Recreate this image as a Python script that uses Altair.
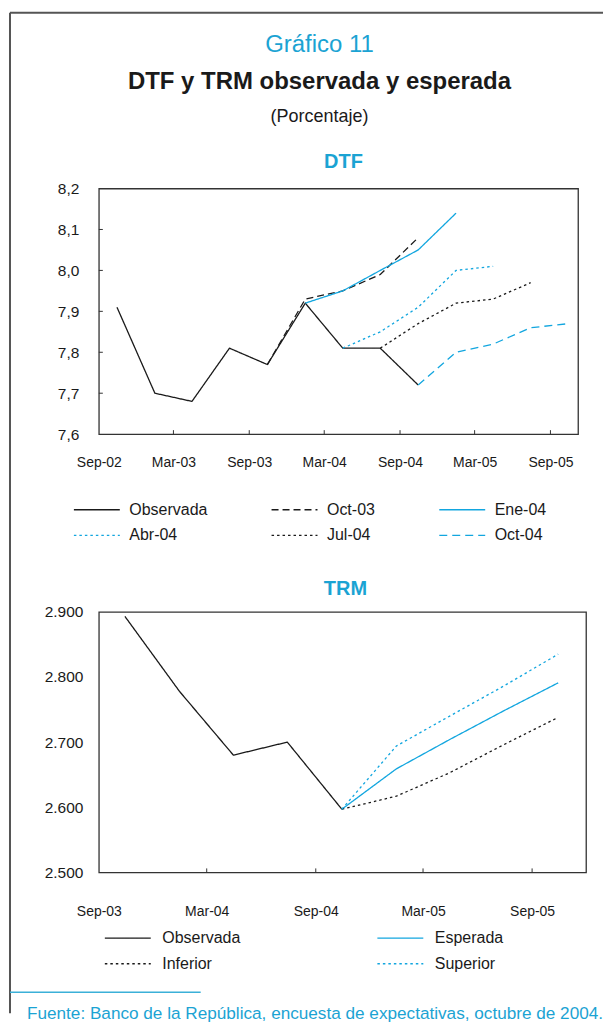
import altair as alt
import pandas as pd

CYAN = "#12A6DF"
TEXT_CYAN = "#1BA3D3"
BLACK = "#1a1a1a"
FRAME = "#555555"
SANS = "'Liberation Sans', Arial, Helvetica, sans-serif"
LEG_SYMBOL = "M-2,0H2"

# ---------------- DTF data ----------------
dtf_series = ["Observada", "Oct-03", "Ene-04", "Abr-04", "Jul-04", "Oct-04"]
dtf_obs_dates = ["2002-10-15", "2003-01-15", "2003-04-15", "2003-07-15", "2003-10-15",
                 "2004-01-15", "2004-04-15", "2004-07-15", "2004-10-15"]
dtf_obs = [7.91, 7.70, 7.68, 7.81, 7.77, 7.92, 7.81, 7.81, 7.72]
dtf_oct03_dates = ["2003-10-15", "2004-01-15", "2004-04-15", "2004-07-15", "2004-10-15"]
dtf_oct03 = [7.77, 7.93, 7.95, 7.99, 8.08]
dtf_ene04_dates = ["2004-01-15", "2004-04-15", "2004-07-15", "2004-10-15", "2005-01-15"]
dtf_ene04 = [7.92, 7.95, 8.00, 8.05, 8.14]
dtf_abr04_dates = ["2004-04-15", "2004-07-15", "2004-10-15", "2005-01-15", "2005-04-15"]
dtf_abr04 = [7.81, 7.85, 7.91, 8.00, 8.01]
dtf_jul04_dates = ["2004-07-15", "2004-10-15", "2005-01-15", "2005-04-15", "2005-07-15"]
dtf_jul04 = [7.81, 7.87, 7.92, 7.93, 7.97]
dtf_oct04_dates = ["2004-10-15", "2005-01-15", "2005-04-15", "2005-07-15", "2005-10-15"]
dtf_oct04 = [7.72, 7.80, 7.82, 7.86, 7.87]
dtf_colors = [BLACK, BLACK, CYAN, CYAN, BLACK, CYAN]
dtf_dashes = [[1, 0], [7, 4], [1, 0], [2.5, 3], [2.5, 3], [8, 5]]
dtf_yticks = [7.6, 7.7, 7.8, 7.9, 8.0, 8.1, 8.2]
dtf_xticks = [(2002, 9), (2003, 3), (2003, 9), (2004, 3), (2004, 9), (2005, 3), (2005, 9)]

# ---------------- TRM data ----------------
trm_series = ["Observada", "Esperada", "Inferior", "Superior"]
trm_obs_dates = ["2003-10-15", "2004-01-15", "2004-04-15", "2004-07-15", "2004-10-15"]
trm_obs = [2893, 2778, 2680, 2700, 2597]
trm_fc_dates = ["2004-10-15", "2005-01-15", "2005-04-15", "2005-07-15", "2005-10-15"]
trm_esp = [2597, 2659, 2704, 2748, 2791]
trm_inf = [2597, 2617, 2653, 2696, 2738]
trm_sup = [2597, 2694, 2740, 2786, 2835]
trm_colors = [BLACK, CYAN, BLACK, CYAN]
trm_dashes = [[1, 0], [1, 0], [2.5, 3], [2.5, 3]]
trm_yticks = [2500, 2600, 2700, 2800, 2900]
trm_xticks = [(2003, 9), (2004, 3), (2004, 9), (2005, 3), (2005, 9)]


def long(name, dates, vals):
    return pd.DataFrame({"serie": name, "fecha": dates, "valor": vals})


dtf_df = pd.concat([
    long("Observada", dtf_obs_dates, dtf_obs),
    long("Oct-03", dtf_oct03_dates, dtf_oct03),
    long("Ene-04", dtf_ene04_dates, dtf_ene04),
    long("Abr-04", dtf_abr04_dates, dtf_abr04),
    long("Jul-04", dtf_jul04_dates, dtf_jul04),
    long("Oct-04", dtf_oct04_dates, dtf_oct04),
])
trm_df = pd.concat([
    long("Observada", trm_obs_dates, trm_obs),
    long("Esperada", trm_fc_dates, trm_esp),
    long("Inferior", trm_fc_dates, trm_inf),
    long("Superior", trm_fc_dates, trm_sup),
])

one = pd.DataFrame({"k": [0]})


def dt(y, m, d=1):
    return alt.DateTime(year=y, month=m, date=d)


def txt(s, x, y, size, color=BLACK, bold=False, font=SANS, align="center"):
    return alt.Chart(one).mark_text(
        text=s, font=font, fontSize=size, color=color,
        fontWeight="bold" if bold else "normal", align=align, baseline="middle"
    ).encode(x=alt.value(x), y=alt.value(y))


def hrule(x1, x2, y, color, w):
    return alt.Chart(one).mark_rule(color=color, strokeWidth=w).encode(
        x=alt.value(x1), x2=alt.value(x2), y=alt.value(y))


def vrule(x, y1, y2, color, w):
    return alt.Chart(one).mark_rule(color=color, strokeWidth=w).encode(
        x=alt.value(x), y=alt.value(y1), y2=alt.value(y2))


# ---------------- DTF panel ----------------
DW, DH = 480, 246
dtf_x = alt.X("fecha:T", title=None,
              scale=alt.Scale(domain=[dt(2002, 9), dt(2005, 11, 7)]),
              axis=alt.Axis(values=[dt(y, m) for y, m in dtf_xticks], format="%b-%y",
                            labelPadding=21, labelFlush=False, labelOverlap=False))
dtf_y = alt.Y("valor:Q", title=None,
              scale=alt.Scale(domain=[7.6, 8.2], nice=False, zero=False),
              axis=alt.Axis(values=dtf_yticks, labelPadding=20, labelFontSize=15.5,
                            labelExpr="replace(format(datum.value, '.1f'), '.', ',')"))

dtf_lines = alt.Chart(dtf_df).mark_line(strokeWidth=1.3).encode(
    x=dtf_x, y=dtf_y,
    color=alt.Color("serie:N", scale=alt.Scale(domain=dtf_series, range=dtf_colors),
                    legend=alt.Legend(title=None, orient="none", legendX=-14.5, legendY=309,
                                      direction="horizontal", columns=3,
                                      symbolType=LEG_SYMBOL, symbolSize=529,
                                      symbolStrokeWidth=1.3, labelFont=SANS,
                                      labelFontSize=16, labelColor=BLACK, labelOffset=20,
                                      columnPadding=60, rowPadding=5, padding=0)),
    strokeDash=alt.StrokeDash("serie:N", scale=alt.Scale(domain=dtf_series, range=dtf_dashes),
                              legend=alt.Legend(title=None)),
    detail="serie:N",
)

dtf_xt = alt.Chart(pd.DataFrame({"fecha": [f"{y}-{m:02d}-01" for y, m in dtf_xticks[1:]]})).mark_rule(
    color="#333", strokeWidth=1).encode(x="fecha:T", y=alt.value(DH), y2=alt.value(DH - 4))
dtf_yt = alt.Chart(pd.DataFrame({"valor": dtf_yticks[1:-1]})).mark_rule(
    color="#333", strokeWidth=1).encode(y="valor:Q", x=alt.value(0), x2=alt.value(4))

dtf_layers = alt.layer(
    vrule(-89, -176, 826, FRAME, 2),
    hrule(-89, 505, -176, FRAME, 2),
    txt("Gráfico 11", 221, -144, 24, TEXT_CYAN),
    txt("DTF y TRM observada y esperada", 221, -107, 24, BLACK, bold=True),
    txt("(Porcentaje)", 221, -72, 18, BLACK),
    txt("DTF", 245, -27, 20, TEXT_CYAN, bold=True),
    dtf_lines, dtf_xt, dtf_yt,
).properties(width=DW, height=DH)

# ---------------- TRM panel ----------------
TW, TH = 488, 261
trm_x = alt.X("fecha:T", title=None,
              scale=alt.Scale(domain=[dt(2003, 9), dt(2005, 12)]),
              axis=alt.Axis(values=[dt(y, m) for y, m in trm_xticks], format="%b-%y",
                            labelPadding=32, labelFlush=False, labelOverlap=False))
trm_y = alt.Y("valor:Q", title=None,
              scale=alt.Scale(domain=[2500, 2900], nice=False, zero=False),
              axis=alt.Axis(values=trm_yticks, labelPadding=16, labelFontSize=15.5,
                            labelExpr="replace(format(datum.value, ','), ',', '.')"))

trm_lines = alt.Chart(trm_df).mark_line(strokeWidth=1.3).encode(
    x=trm_x, y=trm_y,
    color=alt.Color("serie:N", scale=alt.Scale(domain=trm_series, range=trm_colors),
                    legend=alt.Legend(title=None, orient="none", legendX=16.5, legendY=314,
                                      direction="horizontal", columns=2,
                                      symbolType=LEG_SYMBOL, symbolSize=529,
                                      symbolStrokeWidth=1.3, labelFont=SANS,
                                      labelFontSize=16, labelColor=BLACK, labelOffset=22,
                                      columnPadding=133, rowPadding=5, padding=0)),
    strokeDash=alt.StrokeDash("serie:N", scale=alt.Scale(domain=trm_series, range=trm_dashes),
                              legend=alt.Legend(title=None)),
    detail="serie:N",
)
trm_xt = alt.Chart(pd.DataFrame({"fecha": [f"{y}-{m:02d}-01" for y, m in trm_xticks[1:]]})).mark_rule(
    color="#333", strokeWidth=1).encode(x="fecha:T", y=alt.value(TH), y2=alt.value(TH - 4))

trm_layers = alt.layer(
    txt("TRM", 247, -23, 20, TEXT_CYAN, bold=True),
    trm_lines, trm_xt,
    hrule(-89, 102, 381, "#3BB0D8", 1.5),
    txt("Fuente: Banco de la República, encuesta de expectativas, octubre de 2004.",
        -72, 403, 17.2, TEXT_CYAN, align="left"),
).properties(width=TW, height=TH)

chart = alt.vconcat(dtf_layers, trm_layers, spacing=178, bounds="flush").resolve_scale(
    color="independent", strokeDash="independent", x="independent", y="independent"
).resolve_legend(color="independent", strokeDash="independent").properties(
    padding={"left": 0, "top": 2, "right": 0, "bottom": 0}
).configure_view(stroke="#333", strokeWidth=1.3).configure_axis(
    domain=False, ticks=False, grid=False, labelFont=SANS, labelFontSize=14,
    labelColor=BLACK
).configure_concat(spacing=178)

chart.save("out.html", embed_options={"renderer": "svg", "actions": False})
